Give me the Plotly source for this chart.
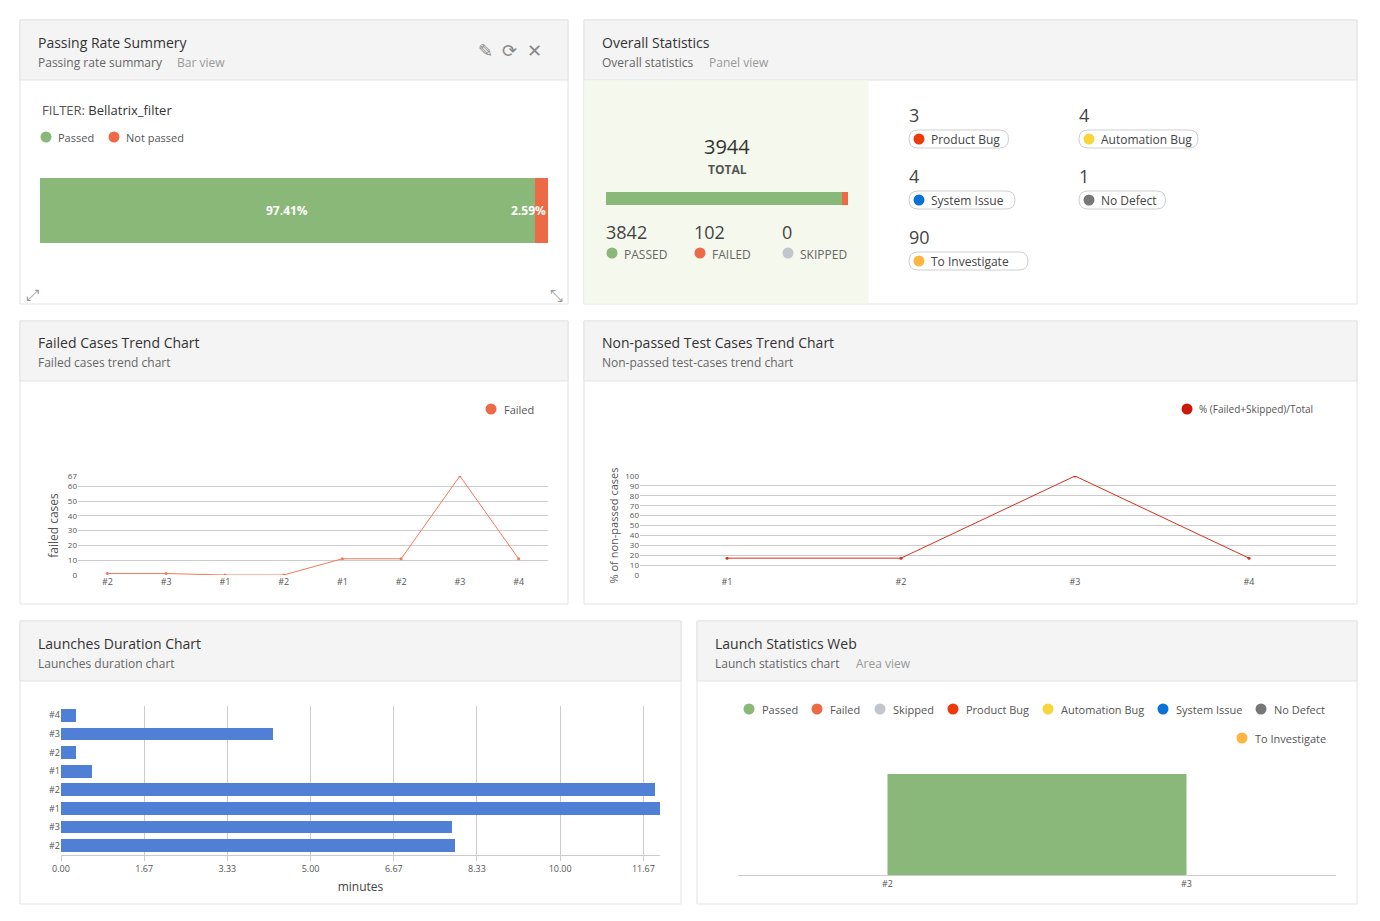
import plotly.graph_objects as go

W, H = 1380, 921

# ---- data
pass_labels = ["Passed", "Not passed"]
pass_pct = [97.41, 2.59]

total = 3944
stat_names = ["PASSED", "FAILED", "SKIPPED"]
stat_values = [3842, 102, 0]
defect_names = ["Product Bug", "Automation Bug", "System Issue", "No Defect", "To Investigate"]
defect_values = [3, 4, 4, 1, 90]

failed_launches = ["#2", "#3", "#1", "#2", "#1", "#2", "#3", "#4"]
failed_counts = [1, 1, 0, 0, 11, 11, 67, 11]

nonpassed_launches = ["#1", "#2", "#3", "#4"]
nonpassed_pct = [17, 17, 100, 17]

duration_launches = ["#2", "#3", "#1", "#2", "#1", "#2", "#3", "#4"]  # bottom to top
duration_minutes = [7.9, 7.83, 12.0, 11.9, 0.63, 0.3, 4.25, 0.3]
duration_ticks = [0, 1.667, 3.333, 5.0, 6.667, 8.333, 10.0, 11.667]

launch_stat_launches = ["#2", "#3"]
launch_stat_passed = [3842, 3842]

GREEN = "#8ab878"
ORANGE = "#ec6a45"
FONT = "Open Sans"


def px(x):
    return x / W


def py(y):
    return 1 - y / H


shapes = []
annotations = []


def rect(x0, y0, x1, y1, fill, line="#e3e3e3"):
    shapes.append(dict(type="rect", xref="paper", yref="paper", x0=px(x0), x1=px(x1),
                       y0=py(y1), y1=py(y0), fillcolor=fill,
                       line=dict(color=line, width=1), layer="below"))


def text(x, y, s, size=12, color="#333", anchor="left", bold=False):
    if bold:
        s = "<b>" + s + "</b>"
    annotations.append(dict(xref="paper", yref="paper", x=px(x), y=py(y), text=s,
                            showarrow=False, xanchor=anchor, yanchor="middle",
                            font=dict(size=size, color=color, family=FONT)))


def dot(x, y, color, r=5.5):
    shapes.append(dict(type="circle", xref="paper", yref="paper", x0=px(x - r), x1=px(x + r),
                       y0=py(y + r), y1=py(y - r), fillcolor=color, line=dict(width=0)))


def pill(x0, y0, x1, y1):
    r = (y1 - y0) / 2
    path = "M{},{} L{},{} ".format(px(x0 + r), py(y0), px(x1 - r), py(y0))
    path += "Q{},{} {},{} ".format(px(x1), py(y0), px(x1), py(y0 + r))
    path += "Q{},{} {},{} ".format(px(x1), py(y1), px(x1 - r), py(y1))
    path += "L{},{} ".format(px(x0 + r), py(y1))
    path += "Q{},{} {},{} ".format(px(x0), py(y1), px(x0), py(y0 + r))
    path += "Q{},{} {},{} Z".format(px(x0), py(y0), px(x0 + r), py(y0))
    shapes.append(dict(type="path", xref="paper", yref="paper", path=path,
                       fillcolor="white", line=dict(color="#cfcfcf", width=1)))


def panel(x0, y0, x1, y1, title, sub, sub2=None, sub2_x=None):
    rect(x0, y0, x1, y1, "white")
    rect(x0, y0, x1, y0 + 60, "#f4f4f4")
    text(x0 + 16, y0 + 22, title, 14, "#333")
    text(x0 + 16, y0 + 42, sub, 12, "#666")
    if sub2:
        text(sub2_x, y0 + 42, sub2, 12, "#999")


# ---- panels
panel(20, 20, 568, 304, "Passing Rate Summery", "Passing rate summary", "Bar view", 175)
panel(584, 20, 1357, 304, "Overall Statistics", "Overall statistics", "Panel view", 707)
rect(585, 81, 868, 303, "#f5f8ec", line="#f5f8ec")
panel(20, 321, 568, 604, "Failed Cases Trend Chart", "Failed cases trend chart")
panel(584, 321, 1357, 604, "Non-passed Test Cases Trend Chart", "Non-passed test-cases trend chart")
panel(20, 621, 681, 904, "Launches Duration Chart", "Launches duration chart")
panel(697, 621, 1357, 904, "Launch Statistics Web", "Launch statistics chart", "Area view", 854)

text(510, 50, "✎  ⟳  ✕", 18, "#888", anchor="center")
text(32, 295, "⤢", 16, "#999", anchor="center")
text(556, 295, "⤡", 16, "#999", anchor="center")

# passing rate legend
text(40, 110, "FILTER: <span style='color:#333'>Bellatrix_filter</span>", 13, "#555")
dot(46, 137, GREEN)
text(56, 137, pass_labels[0], 11, "#555")
dot(114, 137, ORANGE)
text(124, 137, pass_labels[1], 11, "#555")

# overall statistics text
text(727, 147, str(total), 20, "#333", anchor="center")
text(727, 170, "TOTAL", 12, "#555", anchor="center", bold=True)
stat_colors = [GREEN, ORANGE, "#c0c6cc"]
for i, (n, v) in enumerate(zip(stat_names, stat_values)):
    x = 606 + i * 88
    text(x - 2, 232, str(v), 18, "#444")
    dot(x + 6, 253, stat_colors[i])
    text(x + 16, 254, n, 12, "#666")

defect_colors = ["#ee3a0a", "#f9d53c", "#0a72d6", "#777777", "#ffb540"]
defect_pos = [(909, 115), (1079, 115), (909, 176), (1079, 176), (909, 237)]
for n, v, c, (x, y) in zip(defect_names, defect_values, defect_colors, defect_pos):
    text(x - 2, y, str(v), 18, "#444")
    w = len(n) * 6.5 + 28
    pill(x, y + 15, x + w, y + 33)
    dot(x + 10, y + 24, c)
    text(x + 20, y + 24, n, 12, "#444")

# failed trend legend
dot(491, 409, ORANGE)
text(502, 409, "Failed", 11, "#555")
dot(1187, 409, "#cc1a0a")
text(1197, 409, "% (Failed+Skipped)/Total", 10, "#555")

# launch stats legend
ls_names = ["Passed", "Failed", "Skipped", "Product Bug", "Automation Bug", "System Issue", "No Defect"]
ls_colors = [GREEN, ORANGE, "#c0c6cc", "#ee3a0a", "#f9d53c", "#0a72d6", "#777777"]
ls_x = [749, 817, 880, 953, 1048, 1163, 1261]
for n, c, x in zip(ls_names, ls_colors, ls_x):
    dot(x, 709, c)
    text(x + 11, 709, n, 11, "#555")
dot(1242, 738, "#ffb540")
text(1253, 738, "To Investigate", 11, "#555")

fig = go.Figure()

# 1. passing rate bar
pass_colors = [GREEN, ORANGE]
start = 0
for lab, v, c in zip(pass_labels, pass_pct, pass_colors):
    fig.add_trace(go.Bar(x=[v], y=[0], orientation="h", marker=dict(color=c, line=dict(width=0)),
                         width=1, xaxis="x", yaxis="y", showlegend=False, name=lab))
    mid = start + v / 2
    anchor = "center"
    if v < 10:
        mid = start + v
        anchor = "right"
    annotations.append(dict(xref="x", yref="y", x=mid, y=0, text="<b>%.2f%%</b>" % v,
                            showarrow=False, xanchor=anchor,
                            font=dict(color="white", size=12, family=FONT)))
    start += v

# 2. overall progress bar
for v, c in zip(stat_values, stat_colors):
    fig.add_trace(go.Bar(x=[v], y=[0], orientation="h", marker=dict(color=c, line=dict(width=0)),
                         width=1, xaxis="x2", yaxis="y2", showlegend=False, hoverinfo="x"))

# 3. failed trend
fig.add_trace(go.Scatter(x=list(range(len(failed_counts))), y=failed_counts, mode="lines+markers",
                         line=dict(color="#f4795a", width=1), marker=dict(size=3),
                         xaxis="x3", yaxis="y3", showlegend=False))

# 4. non-passed trend
fig.add_trace(go.Scatter(x=list(range(len(nonpassed_pct))), y=nonpassed_pct, mode="lines+markers",
                         line=dict(color="#d7301c", width=1), marker=dict(size=3),
                         xaxis="x4", yaxis="y4", showlegend=False))

# 5. durations
fig.add_trace(go.Bar(x=duration_minutes, y=list(range(len(duration_minutes))), orientation="h",
                     marker=dict(color="#4f80d6", line=dict(width=0)), width=0.68,
                     xaxis="x5", yaxis="y5", showlegend=False))

# 6. launch statistics area
fig.add_trace(go.Scatter(x=list(range(len(launch_stat_passed))), y=launch_stat_passed, mode="lines",
                         fill="tozeroy", fillcolor="#89b87a", line=dict(color="#89b87a", width=0),
                         xaxis="x6", yaxis="y6", showlegend=False))

smallfont = dict(size=9, color="#555", family=FONT)
hidden = dict(visible=False, fixedrange=True)

fig.update_layout(
    width=W, height=H, margin=dict(l=0, r=0, t=0, b=0, autoexpand=False),
    paper_bgcolor="white", plot_bgcolor="rgba(0,0,0,0)",
    barmode="stack", font=dict(family=FONT),
    shapes=shapes, annotations=annotations,
    xaxis=dict(domain=[px(40), px(548)], range=[0, 100], anchor="y", **hidden),
    yaxis=dict(domain=[py(243), py(178)], range=[-0.5, 0.5], anchor="x", **hidden),
    xaxis2=dict(domain=[px(606), px(848)], range=[0, total], anchor="y2", **hidden),
    yaxis2=dict(domain=[py(205), py(192)], range=[-0.5, 0.5], anchor="x2", **hidden),
    xaxis3=dict(domain=[px(78), px(548)], range=[-0.5, 7.5], anchor="y3",
                tickvals=list(range(8)), ticktext=failed_launches, tickfont=smallfont,
                showgrid=False, zeroline=False, fixedrange=True),
    yaxis3=dict(domain=[py(575), py(476)], range=[0, 67], anchor="x3",
                tickvals=[0, 10, 20, 30, 40, 50, 60, 67], ticktext=["0", "10", "20", "30", "40", "50", "60", "67"],
                tickfont=dict(size=8, color="#555", family=FONT),
                gridcolor="#cccccc", zeroline=False, fixedrange=True,
                title=dict(text="failed cases", font=dict(size=12, color="#555"), standoff=6)),
    xaxis4=dict(domain=[px(640), px(1336)], range=[-0.5, 3.5], anchor="y4",
                tickvals=list(range(4)), ticktext=nonpassed_launches, tickfont=smallfont,
                showgrid=False, zeroline=False, fixedrange=True),
    yaxis4=dict(domain=[py(575), py(476)], range=[0, 100], anchor="x4", dtick=10,
                tickfont=dict(size=8, color="#555", family=FONT), gridcolor="#cccccc",
                zeroline=False, fixedrange=True,
                title=dict(text="% of non-passed cases", font=dict(size=11, color="#555"), standoff=4)),
    xaxis5=dict(domain=[px(61), px(660)], range=[0, 12.0], anchor="y5",
                tickvals=duration_ticks, ticktext=["%.2f" % t for t in duration_ticks],
                tickfont=smallfont, gridcolor="#cccccc", zeroline=False, fixedrange=True,
                showline=True, linecolor="#cccccc", ticks="outside", ticklen=5, tickcolor="#ccc",
                title=dict(text="minutes", font=dict(size=12, color="#444"), standoff=8)),
    yaxis5=dict(domain=[py(855), py(706)], range=[-0.5, 7.5], anchor="x5",
                tickvals=list(range(8)), ticktext=duration_launches, tickfont=smallfont,
                showgrid=False, zeroline=False, fixedrange=True),
    xaxis6=dict(domain=[px(738), px(1336)], range=[-0.5, 1.5], anchor="y6",
                tickvals=[0, 1], ticktext=launch_stat_launches, tickfont=smallfont,
                showgrid=False, zeroline=False, showline=True, linecolor="#cccccc", fixedrange=True),
    yaxis6=dict(domain=[py(875), py(760)], range=[0, 3842 * 115 / 101], anchor="x6", **hidden),
)
fig.update_xaxes(automargin=False)
fig.update_yaxes(automargin=False)

fig.write_html("out.html", config={"displayModeBar": False},
               post_script="document.body.style.margin='0';document.body.style.overflow='hidden';")
